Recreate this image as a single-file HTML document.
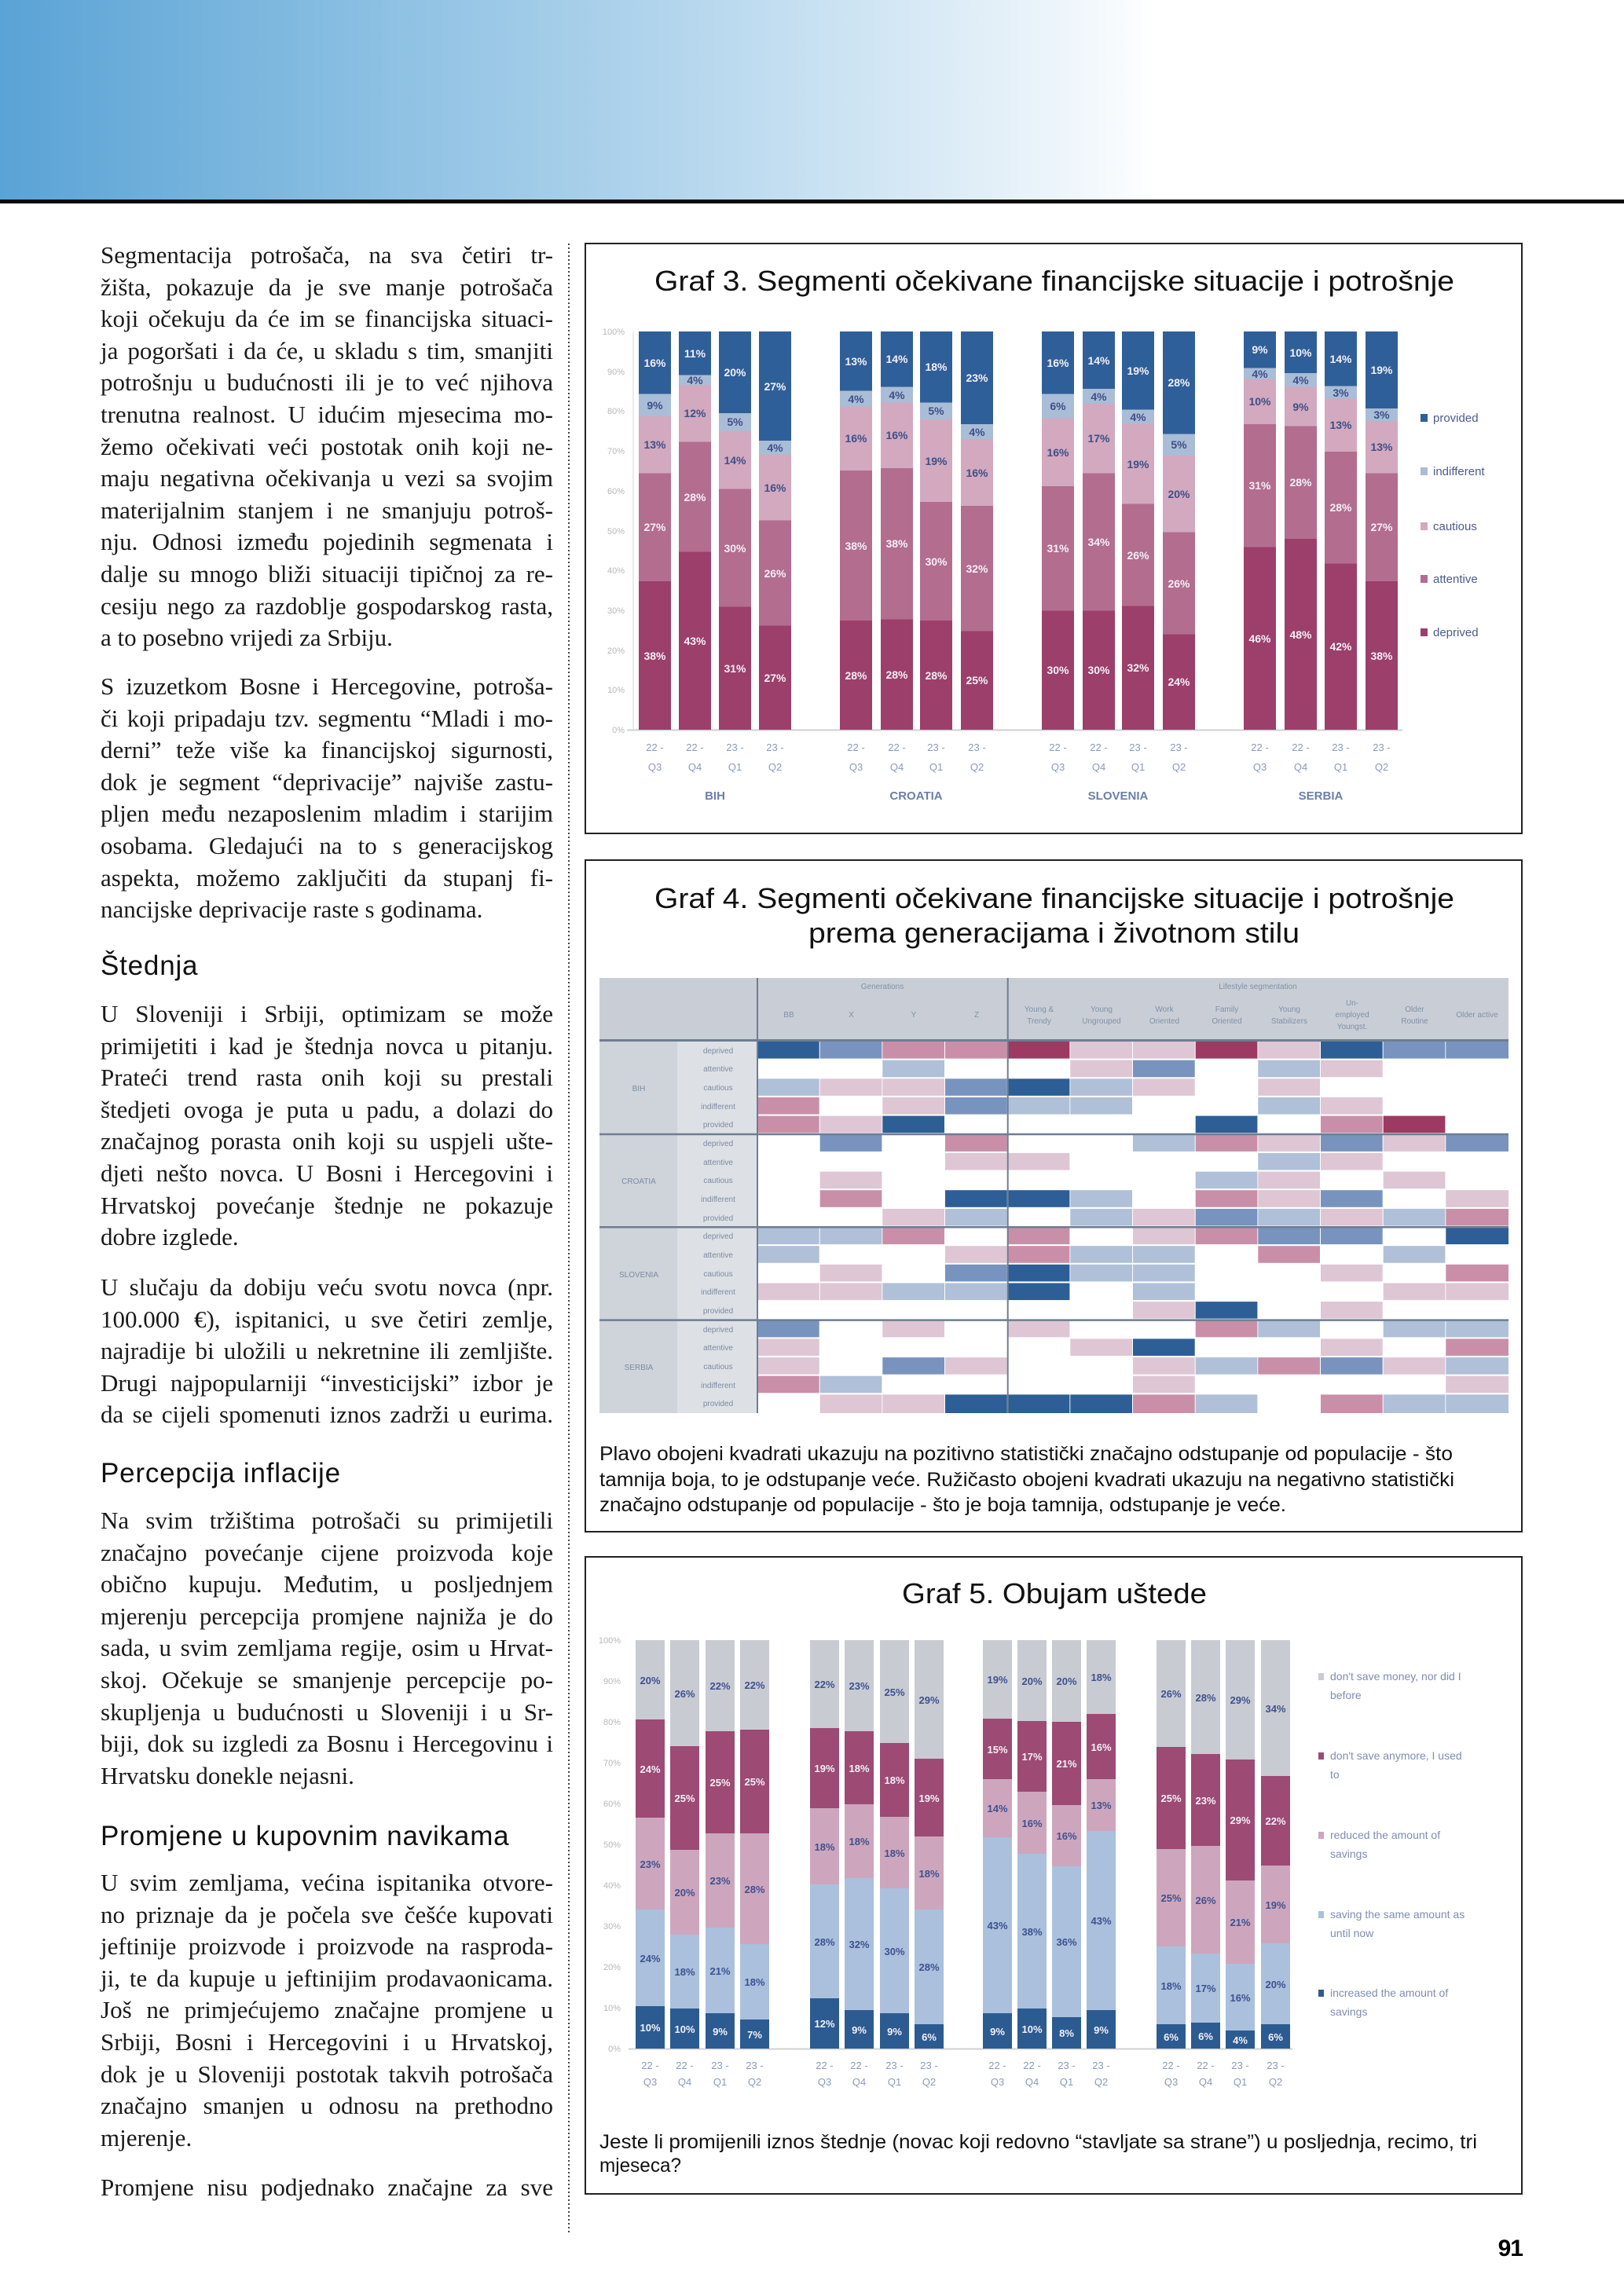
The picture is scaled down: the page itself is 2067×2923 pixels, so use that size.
<!DOCTYPE html>
<html>
<head>
<meta charset="utf-8">
<style>
html,body{margin:0;padding:0;background:#fff;}
body{width:2067px;height:2923px;position:relative;overflow:hidden;}
.hdr{position:absolute;left:0;top:0;width:2067px;height:255px;background:linear-gradient(90deg,#5aa3d6 0px,#8ec1e3 500px,#b8d8ee 900px,#d5e8f5 1150px,#f1f7fc 1380px,#ffffff 1470px);}
.rule{position:absolute;left:0;top:254px;width:2067px;height:5px;background:#0a0a0a;}
.dots{position:absolute;left:723px;top:310px;width:2px;height:2532px;background:repeating-linear-gradient(to bottom,#444 0 2px,transparent 2px 5px);}
.col{position:absolute;left:128px;width:576px;font-family:"Liberation Serif",serif;font-size:31px;color:#1a1a1a;}
.col div{height:40.6px;line-height:40.6px;text-align:justify;text-align-last:justify;white-space:normal;}
.col div.e{text-align:left;text-align-last:left;}
.h{position:absolute;left:128px;font-family:"Liberation Sans",sans-serif;font-size:35px;line-height:41px;letter-spacing:0.8px;color:#111;}
svg{position:absolute;left:0;top:0;}
.pv{fill:#2f5f98}.in{fill:#a9bdd7}.ca{fill:#d2a9bf}.at{fill:#b36d8f}.de{fill:#9c3f6b}
.nv{fill:#c9cbd2}.an{fill:#9d4a75}.rd{fill:#cda6bd}.sm{fill:#aac0dc}.ic{fill:#2c5b91}
.b3{fill:#2d5f96}.b2{fill:#7893be}.b1{fill:#afc0d8}.p1{fill:#dec6d4}.p2{fill:#c98fa9}.p3{fill:#9c3a62}
.lw{fill:#f3f0f6;font:bold 14px "Liberation Sans",sans-serif;text-anchor:middle;}
.ld{fill:#3d4f88;font:bold 14px "Liberation Sans",sans-serif;text-anchor:middle;}
.lw5{fill:#f3f0f6;font:bold 13px "Liberation Sans",sans-serif;text-anchor:middle;}
.ld5{fill:#3e5190;font:bold 13px "Liberation Sans",sans-serif;text-anchor:middle;}
.ya{fill:#b8b8b8;font:11px "Liberation Sans",sans-serif;text-anchor:end;}
.xa{fill:#8a9abb;font:13px "Liberation Sans",sans-serif;text-anchor:middle;}
.cn{fill:#6d7fa8;font:bold 15px "Liberation Sans",sans-serif;text-anchor:middle;}
.lg{fill:#4b5b8c;font:15px "Liberation Sans",sans-serif;}
.lg5{fill:#7f8db0;font:14px "Liberation Sans",sans-serif;}
.tt{fill:#111;font:36px "Liberation Sans",sans-serif;}
.cap{fill:#111;font:25px "Liberation Sans",sans-serif;}
.th{fill:#8090a8;font:10px "Liberation Sans",sans-serif;text-anchor:middle;}
.rl{fill:#7d8aa0;font:10px "Liberation Sans",sans-serif;text-anchor:middle;}
.pg{fill:#000;font:bold 30px "Liberation Sans",sans-serif;text-anchor:end;letter-spacing:-1px;}
</style>
</head>
<body>
<div class="hdr"></div>
<div class="rule"></div>
<div class="dots"></div>

<div class="col" style="top:305px">
<div>Segmentacija potrošača, na sva četiri tr-</div>
<div>žišta, pokazuje da je sve manje potrošača</div>
<div>koji očekuju da će im se financijska situaci-</div>
<div>ja pogoršati i da će, u skladu s tim, smanjiti</div>
<div>potrošnju u budućnosti ili je to već njihova</div>
<div>trenutna realnost. U idućim mjesecima mo-</div>
<div>žemo očekivati veći postotak onih koji ne-</div>
<div>maju negativna očekivanja u vezi sa svojim</div>
<div>materijalnim stanjem i ne smanjuju potroš-</div>
<div>nju. Odnosi između pojedinih segmenata i</div>
<div>dalje su mnogo bliži situaciji tipičnoj za re-</div>
<div>cesiju nego za razdoblje gospodarskog rasta,</div>
<div class="e">a to posebno vrijedi za Srbiju.</div>
</div>

<div class="col" style="top:854px">
<div>S izuzetkom Bosne i Hercegovine, potroša-</div>
<div>či koji pripadaju tzv. segmentu “Mladi i mo-</div>
<div>derni” teže više ka financijskoj sigurnosti,</div>
<div>dok je segment “deprivacije” najviše zastu-</div>
<div>pljen među nezaposlenim mladim i starijim</div>
<div>osobama. Gledajući na to s generacijskog</div>
<div>aspekta, možemo zaključiti da stupanj fi-</div>
<div class="e">nancijske deprivacije raste s godinama.</div>
</div>

<div class="h" style="top:1209px">Štednja</div>

<div class="col" style="top:1271px">
<div>U Sloveniji i Srbiji, optimizam se može</div>
<div>primijetiti i kad je štednja novca u pitanju.</div>
<div>Prateći trend rasta onih koji su prestali</div>
<div>štedjeti ovoga je puta u padu, a dolazi do</div>
<div>značajnog porasta onih koji su uspjeli ušte-</div>
<div>djeti nešto novca. U Bosni i Hercegovini i</div>
<div>Hrvatskoj povećanje štednje ne pokazuje</div>
<div class="e">dobre izglede.</div>
</div>

<div class="col" style="top:1619px">
<div>U slučaju da dobiju veću svotu novca (npr.</div>
<div>100.000 €), ispitanici, u sve četiri zemlje,</div>
<div>najradije bi uložili u nekretnine ili zemljište.</div>
<div>Drugi najpopularniji “investicijski” izbor je</div>
<div>da se cijeli spomenuti iznos zadrži u eurima.</div>
</div>

<div class="h" style="top:1855px">Percepcija inflacije</div>

<div class="col" style="top:1916px">
<div>Na svim tržištima potrošači su primijetili</div>
<div>značajno povećanje cijene proizvoda koje</div>
<div>obično kupuju. Međutim, u posljednjem</div>
<div>mjerenju percepcija promjene najniža je do</div>
<div>sada, u svim zemljama regije, osim u Hrvat-</div>
<div>skoj. Očekuje se smanjenje percepcije po-</div>
<div>skupljenja u budućnosti u Sloveniji i u Sr-</div>
<div>biji, dok su izgledi za Bosnu i Hercegovinu i</div>
<div class="e">Hrvatsku donekle nejasni.</div>
</div>

<div class="h" style="top:2317px">Promjene u kupovnim navikama</div>

<div class="col" style="top:2377px">
<div>U svim zemljama, većina ispitanika otvore-</div>
<div>no priznaje da je počela sve češće kupovati</div>
<div>jeftinije proizvode i proizvode na rasproda-</div>
<div>ji, te da kupuje u jeftinijim prodavaonicama.</div>
<div>Još ne primjećujemo značajne promjene u</div>
<div>Srbiji, Bosni i Hercegovini i u Hrvatskoj,</div>
<div>dok je u Sloveniji postotak takvih potrošača</div>
<div>značajno smanjen u odnosu na prethodno</div>
<div class="e">mjerenje.</div>
</div>

<div class="col" style="top:2765px">
<div>Promjene nisu podjednako značajne za sve</div>
</div>

<svg width="2067" height="2923" viewBox="0 0 2067 2923" xmlns="http://www.w3.org/2000/svg">
<!-- ===== GRAPH 3 ===== -->
<rect x="745" y="310" width="1192" height="751" fill="none" stroke="#222" stroke-width="2"/>
<text class="tt" x="833" y="370" textLength="1018" lengthAdjust="spacingAndGlyphs">Graf 3. Segmenti očekivane financijske situacije i potrošnje</text>
<line x1="806" y1="422" x2="806" y2="929" stroke="#e4e4e4" stroke-width="1.5"/>
<line x1="798" y1="929.5" x2="1785" y2="929.5" stroke="#d0d0d0" stroke-width="2"/>
<g>
<text class="ya" x="795" y="426">100%</text><text class="ya" x="795" y="477">90%</text><text class="ya" x="795" y="527">80%</text><text class="ya" x="795" y="578">70%</text><text class="ya" x="795" y="629">60%</text><text class="ya" x="795" y="680">50%</text><text class="ya" x="795" y="730">40%</text><text class="ya" x="795" y="781">30%</text><text class="ya" x="795" y="832">20%</text><text class="ya" x="795" y="882">10%</text><text class="ya" x="795" y="933">0%</text>
</g>
<!-- BIH -->
<g transform="translate(813,0)">
<rect class="pv" y="422" width="41" height="79.5"/><rect class="in" y="501.5" width="41" height="28.5"/><rect class="ca" y="530" width="41" height="72.5"/><rect class="at" y="602.5" width="41" height="137.5"/><rect class="de" y="740" width="41" height="189"/>
<text class="lw" x="20.5" y="467">16%</text><text class="ld" x="20.5" y="521">9%</text><text class="ld" x="20.5" y="571">13%</text><text class="lw" x="20.5" y="676">27%</text><text class="lw" x="20.5" y="840">38%</text>
</g>
<g transform="translate(864,0)">
<rect class="pv" y="422" width="41" height="55.5"/><rect class="in" y="477.5" width="41" height="12.5"/><rect class="ca" y="490" width="41" height="72.5"/><rect class="at" y="562.5" width="41" height="140"/><rect class="de" y="702.5" width="41" height="226.5"/>
<text class="lw" x="20.5" y="455">11%</text><text class="ld" x="20.5" y="489">4%</text><text class="ld" x="20.5" y="531">12%</text><text class="lw" x="20.5" y="638">28%</text><text class="lw" x="20.5" y="821">43%</text>
</g>
<g transform="translate(915,0)">
<rect class="pv" y="422" width="41" height="104"/><rect class="in" y="526" width="41" height="22.5"/><rect class="ca" y="548.5" width="41" height="74"/><rect class="at" y="622.5" width="41" height="150"/><rect class="de" y="772.5" width="41" height="156.5"/>
<text class="lw" x="20.5" y="479">20%</text><text class="ld" x="20.5" y="542">5%</text><text class="ld" x="20.5" y="591">14%</text><text class="lw" x="20.5" y="703">30%</text><text class="lw" x="20.5" y="856">31%</text>
</g>
<g transform="translate(966,0)">
<rect class="pv" y="422" width="41" height="139"/><rect class="in" y="561" width="41" height="17.5"/><rect class="ca" y="578.5" width="41" height="84"/><rect class="at" y="662.5" width="41" height="134"/><rect class="de" y="796.5" width="41" height="132.5"/>
<text class="lw" x="20.5" y="497">27%</text><text class="ld" x="20.5" y="575">4%</text><text class="ld" x="20.5" y="626">16%</text><text class="lw" x="20.5" y="735">26%</text><text class="lw" x="20.5" y="868">27%</text>
</g>
<!-- CROATIA -->
<g transform="translate(1069,0)">
<rect class="pv" y="422" width="41" height="75.5"/><rect class="in" y="497.5" width="41" height="20"/><rect class="ca" y="517.5" width="41" height="81.5"/><rect class="at" y="599" width="41" height="191"/><rect class="de" y="790" width="41" height="139"/>
<text class="lw" x="20.5" y="465">13%</text><text class="ld" x="20.5" y="513">4%</text><text class="ld" x="20.5" y="563">16%</text><text class="lw" x="20.5" y="700">38%</text><text class="lw" x="20.5" y="865">28%</text>
</g>
<g transform="translate(1121,0)">
<rect class="pv" y="422" width="41" height="70.5"/><rect class="in" y="492.5" width="41" height="20"/><rect class="ca" y="512.5" width="41" height="83.5"/><rect class="at" y="596" width="41" height="192.5"/><rect class="de" y="788.5" width="41" height="140.5"/>
<text class="lw" x="20.5" y="462">14%</text><text class="ld" x="20.5" y="508">4%</text><text class="ld" x="20.5" y="559">16%</text><text class="lw" x="20.5" y="697">38%</text><text class="lw" x="20.5" y="864">28%</text>
</g>
<g transform="translate(1171,0)">
<rect class="pv" y="422" width="41" height="90.5"/><rect class="in" y="512.5" width="41" height="21.5"/><rect class="ca" y="534" width="41" height="105"/><rect class="at" y="639" width="41" height="151"/><rect class="de" y="790" width="41" height="139"/>
<text class="lw" x="20.5" y="472">18%</text><text class="ld" x="20.5" y="528">5%</text><text class="ld" x="20.5" y="592">19%</text><text class="lw" x="20.5" y="720">30%</text><text class="lw" x="20.5" y="865">28%</text>
</g>
<g transform="translate(1223,0)">
<rect class="pv" y="422" width="41" height="118"/><rect class="in" y="540" width="41" height="19"/><rect class="ca" y="559" width="41" height="85"/><rect class="at" y="644" width="41" height="159.5"/><rect class="de" y="803.5" width="41" height="125.5"/>
<text class="lw" x="20.5" y="486">23%</text><text class="ld" x="20.5" y="555">4%</text><text class="ld" x="20.5" y="607">16%</text><text class="lw" x="20.5" y="729">32%</text><text class="lw" x="20.5" y="871">25%</text>
</g>
<!-- SLOVENIA -->
<g transform="translate(1326,0)">
<rect class="pv" y="422" width="41" height="79.5"/><rect class="in" y="501.5" width="41" height="31"/><rect class="ca" y="532.5" width="41" height="86.5"/><rect class="at" y="619" width="41" height="158.5"/><rect class="de" y="777.5" width="41" height="151.5"/>
<text class="lw" x="20.5" y="467">16%</text><text class="ld" x="20.5" y="522">6%</text><text class="ld" x="20.5" y="581">16%</text><text class="lw" x="20.5" y="703">31%</text><text class="lw" x="20.5" y="858">30%</text>
</g>
<g transform="translate(1378,0)">
<rect class="pv" y="422" width="41" height="73"/><rect class="in" y="495" width="41" height="19"/><rect class="ca" y="514" width="41" height="88.5"/><rect class="at" y="602.5" width="41" height="175"/><rect class="de" y="777.5" width="41" height="151.5"/>
<text class="lw" x="20.5" y="464">14%</text><text class="ld" x="20.5" y="510">4%</text><text class="ld" x="20.5" y="563">17%</text><text class="lw" x="20.5" y="695">34%</text><text class="lw" x="20.5" y="858">30%</text>
</g>
<g transform="translate(1428,0)">
<rect class="pv" y="422" width="41" height="99.5"/><rect class="in" y="521.5" width="41" height="18.5"/><rect class="ca" y="540" width="41" height="101.5"/><rect class="at" y="641.5" width="41" height="130"/><rect class="de" y="771.5" width="41" height="157.5"/>
<text class="lw" x="20.5" y="477">19%</text><text class="ld" x="20.5" y="536">4%</text><text class="ld" x="20.5" y="596">19%</text><text class="lw" x="20.5" y="712">26%</text><text class="lw" x="20.5" y="855">32%</text>
</g>
<g transform="translate(1480,0)">
<rect class="pv" y="422" width="41" height="130.5"/><rect class="in" y="552.5" width="41" height="27.5"/><rect class="ca" y="580" width="41" height="97.5"/><rect class="at" y="677.5" width="41" height="130"/><rect class="de" y="807.5" width="41" height="121.5"/>
<text class="lw" x="20.5" y="492">28%</text><text class="ld" x="20.5" y="571">5%</text><text class="ld" x="20.5" y="634">20%</text><text class="lw" x="20.5" y="748">26%</text><text class="lw" x="20.5" y="873">24%</text>
</g>
<!-- SERBIA -->
<g transform="translate(1583,0)">
<rect class="pv" y="422" width="41" height="46.5"/><rect class="in" y="468.5" width="41" height="14"/><rect class="ca" y="482.5" width="41" height="57.5"/><rect class="at" y="540" width="41" height="156.5"/><rect class="de" y="696.5" width="41" height="232.5"/>
<text class="lw" x="20.5" y="450">9%</text><text class="ld" x="20.5" y="481">4%</text><text class="ld" x="20.5" y="516">10%</text><text class="lw" x="20.5" y="623">31%</text><text class="lw" x="20.5" y="818">46%</text>
</g>
<g transform="translate(1635,0)">
<rect class="pv" y="422" width="41" height="53"/><rect class="in" y="475" width="41" height="17.5"/><rect class="ca" y="492.5" width="41" height="50"/><rect class="at" y="542.5" width="41" height="143.5"/><rect class="de" y="686" width="41" height="243"/>
<text class="lw" x="20.5" y="454">10%</text><text class="ld" x="20.5" y="489">4%</text><text class="ld" x="20.5" y="523">9%</text><text class="lw" x="20.5" y="619">28%</text><text class="lw" x="20.5" y="813">48%</text>
</g>
<g transform="translate(1686,0)">
<rect class="pv" y="422" width="41" height="69.5"/><rect class="in" y="491.5" width="41" height="16"/><rect class="ca" y="507.5" width="41" height="67.5"/><rect class="at" y="575" width="41" height="142.5"/><rect class="de" y="717.5" width="41" height="211.5"/>
<text class="lw" x="20.5" y="462">14%</text><text class="ld" x="20.5" y="505">3%</text><text class="ld" x="20.5" y="546">13%</text><text class="lw" x="20.5" y="651">28%</text><text class="lw" x="20.5" y="828">42%</text>
</g>
<g transform="translate(1738,0)">
<rect class="pv" y="422" width="41" height="98"/><rect class="in" y="520" width="41" height="16"/><rect class="ca" y="536" width="41" height="66.5"/><rect class="at" y="602.5" width="41" height="137.5"/><rect class="de" y="740" width="41" height="189"/>
<text class="lw" x="20.5" y="476">19%</text><text class="ld" x="20.5" y="533">3%</text><text class="ld" x="20.5" y="574">13%</text><text class="lw" x="20.5" y="676">27%</text><text class="lw" x="20.5" y="840">38%</text>
</g>
<!-- x labels graph 3 -->
<g>
<text class="xa" x="833.5" y="956">22 -</text><text class="xa" x="833.5" y="981">Q3</text>
<text class="xa" x="884.5" y="956">22 -</text><text class="xa" x="884.5" y="981">Q4</text>
<text class="xa" x="935.5" y="956">23 -</text><text class="xa" x="935.5" y="981">Q1</text>
<text class="xa" x="986.5" y="956">23 -</text><text class="xa" x="986.5" y="981">Q2</text>
<text class="xa" x="1089.5" y="956">22 -</text><text class="xa" x="1089.5" y="981">Q3</text>
<text class="xa" x="1141.5" y="956">22 -</text><text class="xa" x="1141.5" y="981">Q4</text>
<text class="xa" x="1191.5" y="956">23 -</text><text class="xa" x="1191.5" y="981">Q1</text>
<text class="xa" x="1243.5" y="956">23 -</text><text class="xa" x="1243.5" y="981">Q2</text>
<text class="xa" x="1346.5" y="956">22 -</text><text class="xa" x="1346.5" y="981">Q3</text>
<text class="xa" x="1398.5" y="956">22 -</text><text class="xa" x="1398.5" y="981">Q4</text>
<text class="xa" x="1448.5" y="956">23 -</text><text class="xa" x="1448.5" y="981">Q1</text>
<text class="xa" x="1500.5" y="956">23 -</text><text class="xa" x="1500.5" y="981">Q2</text>
<text class="xa" x="1603.5" y="956">22 -</text><text class="xa" x="1603.5" y="981">Q3</text>
<text class="xa" x="1655.5" y="956">22 -</text><text class="xa" x="1655.5" y="981">Q4</text>
<text class="xa" x="1706.5" y="956">23 -</text><text class="xa" x="1706.5" y="981">Q1</text>
<text class="xa" x="1758.5" y="956">23 -</text><text class="xa" x="1758.5" y="981">Q2</text>
<text class="cn" x="910" y="1018">BIH</text>
<text class="cn" x="1166" y="1018">CROATIA</text>
<text class="cn" x="1423" y="1018">SLOVENIA</text>
<text class="cn" x="1681" y="1018">SERBIA</text>
</g>
<!-- legend graph 3 -->
<g>
<rect class="pv" x="1808" y="527" width="9" height="10"/><text class="lg" x="1824" y="537">provided</text>
<rect class="in" x="1808" y="595" width="9" height="10"/><text class="lg" x="1824" y="605">indifferent</text>
<rect class="ca" x="1808" y="665" width="9" height="10"/><text class="lg" x="1824" y="675">cautious</text>
<rect class="at" x="1808" y="732" width="9" height="10"/><text class="lg" x="1824" y="742">attentive</text>
<rect class="de" x="1808" y="800" width="9" height="10"/><text class="lg" x="1824" y="810">deprived</text>
</g>

<!-- ===== GRAPH 4 ===== -->
<rect x="745" y="1095" width="1192" height="855" fill="none" stroke="#222" stroke-width="2"/>
<text class="tt" x="833" y="1156" textLength="1018" lengthAdjust="spacingAndGlyphs">Graf 4. Segmenti očekivane financijske situacije i potrošnje</text>
<text class="tt" x="1029" y="1200" textLength="625" lengthAdjust="spacingAndGlyphs">prema generacijama i životnom stilu</text>
<rect x="763" y="1245" width="1157" height="79" fill="#c9ced6"/>
<rect x="763" y="1324" width="99" height="475" fill="#cfd4db"/>
<rect x="862" y="1324" width="102" height="475" fill="#dde1e6"/>
<g>
<rect class="b3" x="964" y="1326" width="78.7" height="21.6"/><rect class="b2" x="1043.7" y="1326" width="78.7" height="21.6"/><rect class="p2" x="1123.3" y="1326" width="78.7" height="21.6"/><rect class="p2" x="1203" y="1326" width="78.7" height="21.6"/><rect class="p3" x="1282.7" y="1326" width="78.7" height="21.6"/><rect class="p1" x="1362.3" y="1326" width="78.7" height="21.6"/><rect class="p1" x="1442" y="1326" width="78.7" height="21.6"/><rect class="p3" x="1521.7" y="1326" width="78.7" height="21.6"/><rect class="p1" x="1601.3" y="1326" width="78.7" height="21.6"/><rect class="b3" x="1681" y="1326" width="78.7" height="21.6"/><rect class="b2" x="1760.7" y="1326" width="78.7" height="21.6"/><rect class="b2" x="1840.3" y="1326" width="79.7" height="21.6"/>
<rect class="b1" x="1123.3" y="1349.7" width="78.7" height="21.6"/><rect class="p1" x="1362.3" y="1349.7" width="78.7" height="21.6"/><rect class="b2" x="1442" y="1349.7" width="78.7" height="21.6"/><rect class="b1" x="1601.3" y="1349.7" width="78.7" height="21.6"/><rect class="p1" x="1681" y="1349.7" width="78.7" height="21.6"/>
<rect class="b1" x="964" y="1373.3" width="78.7" height="21.6"/><rect class="p1" x="1043.7" y="1373.3" width="78.7" height="21.6"/><rect class="p1" x="1123.3" y="1373.3" width="78.7" height="21.6"/><rect class="b2" x="1203" y="1373.3" width="78.7" height="21.6"/><rect class="b3" x="1282.7" y="1373.3" width="78.7" height="21.6"/><rect class="b1" x="1362.3" y="1373.3" width="78.7" height="21.6"/><rect class="p1" x="1442" y="1373.3" width="78.7" height="21.6"/><rect class="p1" x="1601.3" y="1373.3" width="78.7" height="21.6"/>
<rect class="p2" x="964" y="1397" width="78.7" height="21.6"/><rect class="p1" x="1123.3" y="1397" width="78.7" height="21.6"/><rect class="b2" x="1203" y="1397" width="78.7" height="21.6"/><rect class="b1" x="1282.7" y="1397" width="78.7" height="21.6"/><rect class="b1" x="1362.3" y="1397" width="78.7" height="21.6"/><rect class="b1" x="1601.3" y="1397" width="78.7" height="21.6"/><rect class="p1" x="1681" y="1397" width="78.7" height="21.6"/>
<rect class="p2" x="964" y="1420.6" width="78.7" height="21.6"/><rect class="p1" x="1043.7" y="1420.6" width="78.7" height="21.6"/><rect class="b3" x="1123.3" y="1420.6" width="78.7" height="21.6"/><rect class="b3" x="1521.7" y="1420.6" width="78.7" height="21.6"/><rect class="p2" x="1681" y="1420.6" width="78.7" height="21.6"/><rect class="p3" x="1760.7" y="1420.6" width="78.7" height="21.6"/>
<rect class="b2" x="1043.7" y="1444.3" width="78.7" height="21.6"/><rect class="p2" x="1203" y="1444.3" width="78.7" height="21.6"/><rect class="b1" x="1442" y="1444.3" width="78.7" height="21.6"/><rect class="p2" x="1521.7" y="1444.3" width="78.7" height="21.6"/><rect class="p1" x="1601.3" y="1444.3" width="78.7" height="21.6"/><rect class="b2" x="1681" y="1444.3" width="78.7" height="21.6"/><rect class="p1" x="1760.7" y="1444.3" width="78.7" height="21.6"/><rect class="b2" x="1840.3" y="1444.3" width="79.7" height="21.6"/>
<rect class="p1" x="1203" y="1467.9" width="78.7" height="21.6"/><rect class="p1" x="1282.7" y="1467.9" width="78.7" height="21.6"/><rect class="b1" x="1601.3" y="1467.9" width="78.7" height="21.6"/><rect class="p1" x="1681" y="1467.9" width="78.7" height="21.6"/>
<rect class="p1" x="1043.7" y="1491.6" width="78.7" height="21.6"/><rect class="b1" x="1521.7" y="1491.6" width="78.7" height="21.6"/><rect class="p1" x="1601.3" y="1491.6" width="78.7" height="21.6"/><rect class="p1" x="1760.7" y="1491.6" width="78.7" height="21.6"/>
<rect class="p2" x="1043.7" y="1515.2" width="78.7" height="21.6"/><rect class="b3" x="1203" y="1515.2" width="78.7" height="21.6"/><rect class="b3" x="1282.7" y="1515.2" width="78.7" height="21.6"/><rect class="b1" x="1362.3" y="1515.2" width="78.7" height="21.6"/><rect class="p2" x="1521.7" y="1515.2" width="78.7" height="21.6"/><rect class="p1" x="1601.3" y="1515.2" width="78.7" height="21.6"/><rect class="b2" x="1681" y="1515.2" width="78.7" height="21.6"/><rect class="p1" x="1840.3" y="1515.2" width="79.7" height="21.6"/>
<rect class="p1" x="1123.3" y="1538.9" width="78.7" height="21.6"/><rect class="b1" x="1203" y="1538.9" width="78.7" height="21.6"/><rect class="b1" x="1362.3" y="1538.9" width="78.7" height="21.6"/><rect class="p1" x="1442" y="1538.9" width="78.7" height="21.6"/><rect class="b2" x="1521.7" y="1538.9" width="78.7" height="21.6"/><rect class="b1" x="1601.3" y="1538.9" width="78.7" height="21.6"/><rect class="p1" x="1681" y="1538.9" width="78.7" height="21.6"/><rect class="b1" x="1760.7" y="1538.9" width="78.7" height="21.6"/><rect class="p2" x="1840.3" y="1538.9" width="79.7" height="21.6"/>
<rect class="b1" x="964" y="1562.5" width="78.7" height="21.6"/><rect class="b1" x="1043.7" y="1562.5" width="78.7" height="21.6"/><rect class="p2" x="1123.3" y="1562.5" width="78.7" height="21.6"/><rect class="p2" x="1282.7" y="1562.5" width="78.7" height="21.6"/><rect class="p1" x="1442" y="1562.5" width="78.7" height="21.6"/><rect class="p2" x="1521.7" y="1562.5" width="78.7" height="21.6"/><rect class="b2" x="1601.3" y="1562.5" width="78.7" height="21.6"/><rect class="b2" x="1681" y="1562.5" width="78.7" height="21.6"/><rect class="b3" x="1840.3" y="1562.5" width="79.7" height="21.6"/>
<rect class="b1" x="964" y="1586.2" width="78.7" height="21.6"/><rect class="p1" x="1203" y="1586.2" width="78.7" height="21.6"/><rect class="p2" x="1282.7" y="1586.2" width="78.7" height="21.6"/><rect class="b1" x="1362.3" y="1586.2" width="78.7" height="21.6"/><rect class="b1" x="1442" y="1586.2" width="78.7" height="21.6"/><rect class="p2" x="1601.3" y="1586.2" width="78.7" height="21.6"/><rect class="b1" x="1760.7" y="1586.2" width="78.7" height="21.6"/>
<rect class="p1" x="1043.7" y="1609.8" width="78.7" height="21.6"/><rect class="b2" x="1203" y="1609.8" width="78.7" height="21.6"/><rect class="b3" x="1282.7" y="1609.8" width="78.7" height="21.6"/><rect class="b1" x="1362.3" y="1609.8" width="78.7" height="21.6"/><rect class="b1" x="1442" y="1609.8" width="78.7" height="21.6"/><rect class="p1" x="1681" y="1609.8" width="78.7" height="21.6"/><rect class="p2" x="1840.3" y="1609.8" width="79.7" height="21.6"/>
<rect class="p1" x="964" y="1633.5" width="78.7" height="21.6"/><rect class="p1" x="1043.7" y="1633.5" width="78.7" height="21.6"/><rect class="b1" x="1123.3" y="1633.5" width="78.7" height="21.6"/><rect class="b1" x="1203" y="1633.5" width="78.7" height="21.6"/><rect class="b3" x="1282.7" y="1633.5" width="78.7" height="21.6"/><rect class="b1" x="1442" y="1633.5" width="78.7" height="21.6"/><rect class="p1" x="1760.7" y="1633.5" width="78.7" height="21.6"/><rect class="p1" x="1840.3" y="1633.5" width="79.7" height="21.6"/>
<rect class="p1" x="1442" y="1657.1" width="78.7" height="21.6"/><rect class="b3" x="1521.7" y="1657.1" width="78.7" height="21.6"/><rect class="p1" x="1681" y="1657.1" width="78.7" height="21.6"/>
<rect class="b2" x="964" y="1680.8" width="78.7" height="21.6"/><rect class="p1" x="1123.3" y="1680.8" width="78.7" height="21.6"/><rect class="p1" x="1282.7" y="1680.8" width="78.7" height="21.6"/><rect class="p2" x="1521.7" y="1680.8" width="78.7" height="21.6"/><rect class="b1" x="1601.3" y="1680.8" width="78.7" height="21.6"/><rect class="b1" x="1760.7" y="1680.8" width="78.7" height="21.6"/><rect class="b1" x="1840.3" y="1680.8" width="79.7" height="21.6"/>
<rect class="p1" x="964" y="1704.4" width="78.7" height="21.6"/><rect class="p1" x="1362.3" y="1704.4" width="78.7" height="21.6"/><rect class="b3" x="1442" y="1704.4" width="78.7" height="21.6"/><rect class="p1" x="1681" y="1704.4" width="78.7" height="21.6"/><rect class="p2" x="1840.3" y="1704.4" width="79.7" height="21.6"/>
<rect class="p1" x="964" y="1728.1" width="78.7" height="21.6"/><rect class="b2" x="1123.3" y="1728.1" width="78.7" height="21.6"/><rect class="p1" x="1203" y="1728.1" width="78.7" height="21.6"/><rect class="p1" x="1442" y="1728.1" width="78.7" height="21.6"/><rect class="b1" x="1521.7" y="1728.1" width="78.7" height="21.6"/><rect class="p2" x="1601.3" y="1728.1" width="78.7" height="21.6"/><rect class="b2" x="1681" y="1728.1" width="78.7" height="21.6"/><rect class="p1" x="1760.7" y="1728.1" width="78.7" height="21.6"/><rect class="b1" x="1840.3" y="1728.1" width="79.7" height="21.6"/>
<rect class="p2" x="964" y="1751.7" width="78.7" height="21.6"/><rect class="b1" x="1043.7" y="1751.7" width="78.7" height="21.6"/><rect class="p1" x="1442" y="1751.7" width="78.7" height="21.6"/><rect class="p1" x="1840.3" y="1751.7" width="79.7" height="21.6"/>
<rect class="p1" x="1043.7" y="1775.4" width="78.7" height="23.6"/><rect class="p1" x="1123.3" y="1775.4" width="78.7" height="23.6"/><rect class="b3" x="1203" y="1775.4" width="78.7" height="23.6"/><rect class="b3" x="1282.7" y="1775.4" width="78.7" height="23.6"/><rect class="b3" x="1362.3" y="1775.4" width="78.7" height="23.6"/><rect class="p2" x="1442" y="1775.4" width="78.7" height="23.6"/><rect class="b1" x="1521.7" y="1775.4" width="78.7" height="23.6"/><rect class="p2" x="1681" y="1775.4" width="78.7" height="23.6"/><rect class="b1" x="1760.7" y="1775.4" width="78.7" height="23.6"/><rect class="b1" x="1840.3" y="1775.4" width="79.7" height="23.6"/>
</g>
<line x1="763" y1="1324.5" x2="1920" y2="1324.5" stroke="#6f7d92" stroke-width="3"/>
<line x1="763" y1="1444" x2="1920" y2="1444" stroke="#6f7d92" stroke-width="2.5"/>
<line x1="763" y1="1562.3" x2="1920" y2="1562.3" stroke="#6f7d92" stroke-width="2.5"/>
<line x1="763" y1="1680.6" x2="1920" y2="1680.6" stroke="#6f7d92" stroke-width="2.5"/>
<line x1="964" y1="1245" x2="964" y2="1799" stroke="#6f7d92" stroke-width="2"/>
<line x1="1282.7" y1="1245" x2="1282.7" y2="1799" stroke="#6f7d92" stroke-width="2"/>
<g>
<text class="th" x="1123" y="1259">Generations</text>
<text class="th" x="1601" y="1259">Lifestyle segmentation</text>
<text class="th" x="1004" y="1295">BB</text><text class="th" x="1083.5" y="1295">X</text><text class="th" x="1163" y="1295">Y</text><text class="th" x="1243" y="1295">Z</text>
<text class="th" x="1322.5" y="1288">Young &amp;</text><text class="th" x="1322.5" y="1303">Trendy</text>
<text class="th" x="1402" y="1288">Young</text><text class="th" x="1402" y="1303">Ungrouped</text>
<text class="th" x="1482" y="1288">Work</text><text class="th" x="1482" y="1303">Oriented</text>
<text class="th" x="1561.5" y="1288">Family</text><text class="th" x="1561.5" y="1303">Oriented</text>
<text class="th" x="1641" y="1288">Young</text><text class="th" x="1641" y="1303">Stabilizers</text>
<text class="th" x="1721" y="1280">Un-</text><text class="th" x="1721" y="1295">employed</text><text class="th" x="1721" y="1310">Youngst.</text>
<text class="th" x="1800.5" y="1288">Older</text><text class="th" x="1800.5" y="1303">Routine</text>
<text class="th" x="1880" y="1295">Older active</text>
</g>
<g>
<text class="rl" x="914" y="1341">deprived</text><text class="rl" x="914" y="1364">attentive</text><text class="rl" x="914" y="1388">cautious</text><text class="rl" x="914" y="1412">indifferent</text><text class="rl" x="914" y="1435">provided</text>
<text class="rl" x="914" y="1459">deprived</text><text class="rl" x="914" y="1483">attentive</text><text class="rl" x="914" y="1506">cautious</text><text class="rl" x="914" y="1530">indifferent</text><text class="rl" x="914" y="1554">provided</text>
<text class="rl" x="914" y="1577">deprived</text><text class="rl" x="914" y="1601">attentive</text><text class="rl" x="914" y="1625">cautious</text><text class="rl" x="914" y="1648">indifferent</text><text class="rl" x="914" y="1672">provided</text>
<text class="rl" x="914" y="1696">deprived</text><text class="rl" x="914" y="1719">attentive</text><text class="rl" x="914" y="1743">cautious</text><text class="rl" x="914" y="1767">indifferent</text><text class="rl" x="914" y="1790">provided</text>
<text class="rl" x="813" y="1389">BIH</text>
<text class="rl" x="813" y="1507">CROATIA</text>
<text class="rl" x="813" y="1626">SLOVENIA</text>
<text class="rl" x="813" y="1744">SERBIA</text>
</g>
<text class="cap" x="763" y="1859" textLength="1086" lengthAdjust="spacingAndGlyphs">Plavo obojeni kvadrati ukazuju na pozitivno statistički značajno odstupanje od populacije - što</text>
<text class="cap" x="763" y="1892" textLength="1088" lengthAdjust="spacingAndGlyphs">tamnija boja, to je odstupanje veće. Ružičasto obojeni kvadrati ukazuju na negativno statistički</text>
<text class="cap" x="763" y="1924" textLength="874" lengthAdjust="spacingAndGlyphs">značajno odstupanje od populacije - što je boja tamnija, odstupanje je veće.</text>

<!-- ===== GRAPH 5 ===== -->
<rect x="745" y="1982" width="1192" height="811" fill="none" stroke="#222" stroke-width="2"/>
<text class="tt" x="1148" y="2041" textLength="388" lengthAdjust="spacingAndGlyphs">Graf 5. Obujam uštede</text>
<line x1="800" y1="2608.5" x2="1645" y2="2608.5" stroke="#d0d0d0" stroke-width="2"/>
<g>
<text class="ya" x="790" y="2092">100%</text><text class="ya" x="790" y="2144">90%</text><text class="ya" x="790" y="2196">80%</text><text class="ya" x="790" y="2248">70%</text><text class="ya" x="790" y="2300">60%</text><text class="ya" x="790" y="2352">50%</text><text class="ya" x="790" y="2404">40%</text><text class="ya" x="790" y="2456">30%</text><text class="ya" x="790" y="2508">20%</text><text class="ya" x="790" y="2560">10%</text><text class="ya" x="790" y="2612">0%</text>
</g>
<g transform="translate(809,0)">
<rect class="nv" y="2088" width="37" height="101"/><rect class="an" y="2189" width="37" height="125"/><rect class="rd" y="2314" width="37" height="117"/><rect class="sm" y="2431" width="37" height="123"/><rect class="ic" y="2554" width="37" height="54"/>
<text class="ld5" x="18.5" y="2144">20%</text><text class="lw5" x="18.5" y="2257">24%</text><text class="ld5" x="18.5" y="2378">23%</text><text class="ld5" x="18.5" y="2498">24%</text><text class="lw5" x="18.5" y="2586">10%</text>
</g>
<g transform="translate(853,0)">
<rect class="nv" y="2088" width="37" height="135"/><rect class="an" y="2223" width="37" height="132"/><rect class="rd" y="2355" width="37" height="108"/><rect class="sm" y="2463" width="37" height="94"/><rect class="ic" y="2557" width="37" height="51"/>
<text class="ld5" x="18.5" y="2161">26%</text><text class="lw5" x="18.5" y="2294">25%</text><text class="ld5" x="18.5" y="2414">20%</text><text class="ld5" x="18.5" y="2515">18%</text><text class="lw5" x="18.5" y="2588">10%</text>
</g>
<g transform="translate(898,0)">
<rect class="nv" y="2088" width="37" height="116"/><rect class="an" y="2204" width="37" height="130"/><rect class="rd" y="2334" width="37" height="120"/><rect class="sm" y="2454" width="37" height="109"/><rect class="ic" y="2563" width="37" height="45"/>
<text class="ld5" x="18.5" y="2151">22%</text><text class="lw5" x="18.5" y="2274">25%</text><text class="ld5" x="18.5" y="2399">23%</text><text class="ld5" x="18.5" y="2514">21%</text><text class="lw5" x="18.5" y="2591">9%</text>
</g>
<g transform="translate(942,0)">
<rect class="nv" y="2088" width="37" height="114"/><rect class="an" y="2202" width="37" height="132"/><rect class="rd" y="2334" width="37" height="141"/><rect class="sm" y="2475" width="37" height="96"/><rect class="ic" y="2571" width="37" height="37"/>
<text class="ld5" x="18.5" y="2150">22%</text><text class="lw5" x="18.5" y="2273">25%</text><text class="ld5" x="18.5" y="2410">28%</text><text class="ld5" x="18.5" y="2528">18%</text><text class="lw5" x="18.5" y="2595">7%</text>
</g>
<g transform="translate(1031,0)">
<rect class="nv" y="2088" width="37" height="112"/><rect class="an" y="2200" width="37" height="102"/><rect class="rd" y="2302" width="37" height="97"/><rect class="sm" y="2399" width="37" height="145"/><rect class="ic" y="2544" width="37" height="64"/>
<text class="ld5" x="18.5" y="2149">22%</text><text class="lw5" x="18.5" y="2256">19%</text><text class="ld5" x="18.5" y="2356">18%</text><text class="ld5" x="18.5" y="2477">28%</text><text class="lw5" x="18.5" y="2581">12%</text>
</g>
<g transform="translate(1075,0)">
<rect class="nv" y="2088" width="37" height="116"/><rect class="an" y="2204" width="37" height="93"/><rect class="rd" y="2297" width="37" height="94"/><rect class="sm" y="2391" width="37" height="168"/><rect class="ic" y="2559" width="37" height="49"/>
<text class="ld5" x="18.5" y="2151">23%</text><text class="lw5" x="18.5" y="2256">18%</text><text class="ld5" x="18.5" y="2349">18%</text><text class="ld5" x="18.5" y="2480">32%</text><text class="lw5" x="18.5" y="2589">9%</text>
</g>
<g transform="translate(1120,0)">
<rect class="nv" y="2088" width="37" height="131"/><rect class="an" y="2219" width="37" height="94"/><rect class="rd" y="2313" width="37" height="91"/><rect class="sm" y="2404" width="37" height="159"/><rect class="ic" y="2563" width="37" height="45"/>
<text class="ld5" x="18.5" y="2159">25%</text><text class="lw5" x="18.5" y="2271">18%</text><text class="ld5" x="18.5" y="2364">18%</text><text class="ld5" x="18.5" y="2489">30%</text><text class="lw5" x="18.5" y="2591">9%</text>
</g>
<g transform="translate(1164,0)">
<rect class="nv" y="2088" width="37" height="151"/><rect class="an" y="2239" width="37" height="99"/><rect class="rd" y="2338" width="37" height="93"/><rect class="sm" y="2431" width="37" height="146"/><rect class="ic" y="2577" width="37" height="31"/>
<text class="ld5" x="18.5" y="2169">29%</text><text class="lw5" x="18.5" y="2294">19%</text><text class="ld5" x="18.5" y="2390">18%</text><text class="ld5" x="18.5" y="2509">28%</text><text class="lw5" x="18.5" y="2598">6%</text>
</g>
<g transform="translate(1251,0)">
<rect class="nv" y="2088" width="37" height="100"/><rect class="an" y="2188" width="37" height="77"/><rect class="rd" y="2265" width="37" height="74"/><rect class="sm" y="2339" width="37" height="224"/><rect class="ic" y="2563" width="37" height="45"/>
<text class="ld5" x="18.5" y="2143">19%</text><text class="lw5" x="18.5" y="2232">15%</text><text class="ld5" x="18.5" y="2307">14%</text><text class="ld5" x="18.5" y="2456">43%</text><text class="lw5" x="18.5" y="2591">9%</text>
</g>
<g transform="translate(1295,0)">
<rect class="nv" y="2088" width="37" height="103"/><rect class="an" y="2191" width="37" height="90"/><rect class="rd" y="2281" width="37" height="79"/><rect class="sm" y="2360" width="37" height="197"/><rect class="ic" y="2557" width="37" height="51"/>
<text class="ld5" x="18.5" y="2145">20%</text><text class="lw5" x="18.5" y="2241">17%</text><text class="ld5" x="18.5" y="2326">16%</text><text class="ld5" x="18.5" y="2464">38%</text><text class="lw5" x="18.5" y="2588">10%</text>
</g>
<g transform="translate(1339,0)">
<rect class="nv" y="2088" width="37" height="104"/><rect class="an" y="2192" width="37" height="106"/><rect class="rd" y="2298" width="37" height="78"/><rect class="sm" y="2376" width="37" height="192"/><rect class="ic" y="2568" width="37" height="40"/>
<text class="ld5" x="18.5" y="2145">20%</text><text class="lw5" x="18.5" y="2250">21%</text><text class="ld5" x="18.5" y="2342">16%</text><text class="ld5" x="18.5" y="2477">36%</text><text class="lw5" x="18.5" y="2593">8%</text>
</g>
<g transform="translate(1383,0)">
<rect class="nv" y="2088" width="37" height="94"/><rect class="an" y="2182" width="37" height="83"/><rect class="rd" y="2265" width="37" height="66"/><rect class="sm" y="2331" width="37" height="228"/><rect class="ic" y="2559" width="37" height="49"/>
<text class="ld5" x="18.5" y="2140">18%</text><text class="lw5" x="18.5" y="2229">16%</text><text class="ld5" x="18.5" y="2303">13%</text><text class="ld5" x="18.5" y="2450">43%</text><text class="lw5" x="18.5" y="2589">9%</text>
</g>
<g transform="translate(1472,0)">
<rect class="nv" y="2088" width="37" height="136"/><rect class="an" y="2224" width="37" height="130"/><rect class="rd" y="2354" width="37" height="124"/><rect class="sm" y="2478" width="37" height="99"/><rect class="ic" y="2577" width="37" height="31"/>
<text class="ld5" x="18.5" y="2161">26%</text><text class="lw5" x="18.5" y="2294">25%</text><text class="ld5" x="18.5" y="2421">25%</text><text class="ld5" x="18.5" y="2533">18%</text><text class="lw5" x="18.5" y="2598">6%</text>
</g>
<g transform="translate(1516,0)">
<rect class="nv" y="2088" width="37" height="145"/><rect class="an" y="2233" width="37" height="117"/><rect class="rd" y="2350" width="37" height="137"/><rect class="sm" y="2487" width="37" height="88"/><rect class="ic" y="2575" width="37" height="33"/>
<text class="ld5" x="18.5" y="2166">28%</text><text class="lw5" x="18.5" y="2297">23%</text><text class="ld5" x="18.5" y="2424">26%</text><text class="ld5" x="18.5" y="2536">17%</text><text class="lw5" x="18.5" y="2597">6%</text>
</g>
<g transform="translate(1560,0)">
<rect class="nv" y="2088" width="37" height="152"/><rect class="an" y="2240" width="37" height="154"/><rect class="rd" y="2394" width="37" height="106"/><rect class="sm" y="2500" width="37" height="85"/><rect class="ic" y="2585" width="37" height="23"/>
<text class="ld5" x="18.5" y="2169">29%</text><text class="lw5" x="18.5" y="2322">29%</text><text class="ld5" x="18.5" y="2452">21%</text><text class="ld5" x="18.5" y="2548">16%</text><text class="lw5" x="18.5" y="2602">4%</text>
</g>
<g transform="translate(1605,0)">
<rect class="nv" y="2088" width="37" height="173"/><rect class="an" y="2261" width="37" height="114"/><rect class="rd" y="2375" width="37" height="99"/><rect class="sm" y="2474" width="37" height="103"/><rect class="ic" y="2577" width="37" height="31"/>
<text class="ld5" x="18.5" y="2180">34%</text><text class="lw5" x="18.5" y="2323">22%</text><text class="ld5" x="18.5" y="2430">19%</text><text class="ld5" x="18.5" y="2531">20%</text><text class="lw5" x="18.5" y="2598">6%</text>
</g>
<g>
<text class="xa" x="827.5" y="2634">22 -</text><text class="xa" x="827.5" y="2655">Q3</text>
<text class="xa" x="871.5" y="2634">22 -</text><text class="xa" x="871.5" y="2655">Q4</text>
<text class="xa" x="916.5" y="2634">23 -</text><text class="xa" x="916.5" y="2655">Q1</text>
<text class="xa" x="960.5" y="2634">23 -</text><text class="xa" x="960.5" y="2655">Q2</text>
<text class="xa" x="1049.5" y="2634">22 -</text><text class="xa" x="1049.5" y="2655">Q3</text>
<text class="xa" x="1093.5" y="2634">22 -</text><text class="xa" x="1093.5" y="2655">Q4</text>
<text class="xa" x="1138.5" y="2634">23 -</text><text class="xa" x="1138.5" y="2655">Q1</text>
<text class="xa" x="1182.5" y="2634">23 -</text><text class="xa" x="1182.5" y="2655">Q2</text>
<text class="xa" x="1269.5" y="2634">22 -</text><text class="xa" x="1269.5" y="2655">Q3</text>
<text class="xa" x="1313.5" y="2634">22 -</text><text class="xa" x="1313.5" y="2655">Q4</text>
<text class="xa" x="1357.5" y="2634">23 -</text><text class="xa" x="1357.5" y="2655">Q1</text>
<text class="xa" x="1401.5" y="2634">23 -</text><text class="xa" x="1401.5" y="2655">Q2</text>
<text class="xa" x="1490.5" y="2634">22 -</text><text class="xa" x="1490.5" y="2655">Q3</text>
<text class="xa" x="1534.5" y="2634">22 -</text><text class="xa" x="1534.5" y="2655">Q4</text>
<text class="xa" x="1578.5" y="2634">23 -</text><text class="xa" x="1578.5" y="2655">Q1</text>
<text class="xa" x="1623.5" y="2634">23 -</text><text class="xa" x="1623.5" y="2655">Q2</text>
</g>
<g>
<rect class="nv" x="1678" y="2130" width="7" height="9"/><text class="lg5" x="1693" y="2139">don't save money, nor did I</text><text class="lg5" x="1693" y="2163">before</text>
<rect class="an" x="1678" y="2231" width="7" height="9"/><text class="lg5" x="1693" y="2240">don't save anymore, I used</text><text class="lg5" x="1693" y="2264">to</text>
<rect class="rd" x="1678" y="2332" width="7" height="9"/><text class="lg5" x="1693" y="2341">reduced the amount of</text><text class="lg5" x="1693" y="2365">savings</text>
<rect class="sm" x="1678" y="2433" width="7" height="9"/><text class="lg5" x="1693" y="2442">saving the same amount as</text><text class="lg5" x="1693" y="2466">until now</text>
<rect class="ic" x="1678" y="2533" width="7" height="9"/><text class="lg5" x="1693" y="2542">increased the amount of</text><text class="lg5" x="1693" y="2566">savings</text>
</g>
<text class="cap" x="763" y="2735" textLength="1117" lengthAdjust="spacingAndGlyphs">Jeste li promijenili iznos štednje (novac koji redovno “stavljate sa strane”) u posljednja, recimo, tri</text>
<text class="cap" x="763" y="2765" textLength="104" lengthAdjust="spacingAndGlyphs">mjeseca?</text>

<text class="pg" x="1938" y="2872">91</text>
</svg>
</body>
</html>
